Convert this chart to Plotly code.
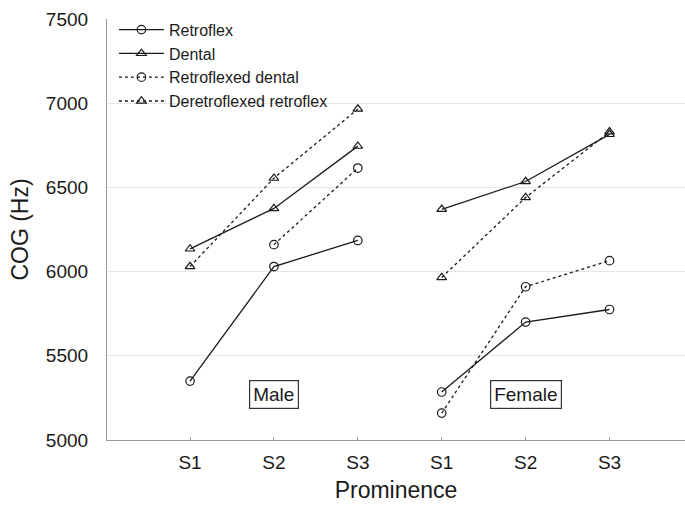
import plotly.graph_objects as go

# Prominence levels, repeated for each speaker group
levels = ["S1", "S2", "S3"]
groups = ["Male", "Female"]

# Mean COG (Hz) per group and prominence level
retroflex_male = [5350, 6030, 6185]
retroflex_female = [5285, 5700, 5775]
dental_male = [6135, 6375, 6745]
dental_female = [6370, 6535, 6815]
retroflexed_dental_male = [None, 6160, 6615]
retroflexed_dental_female = [5160, 5910, 6065]
deretroflexed_retroflex_male = [6030, 6555, 6965]
deretroflexed_retroflex_female = [5965, 6440, 6830]

series = [
    ("Retroflex", retroflex_male, retroflex_female, "solid", "circle-open"),
    ("Dental", dental_male, dental_female, "solid", "triangle-up-open"),
    ("Retroflexed dental", retroflexed_dental_male, retroflexed_dental_female, "dot", "circle-open"),
    ("Deretroflexed retroflex", deretroflexed_retroflex_male, deretroflexed_retroflex_female, "dot", "triangle-up-open"),
]

ink = "#1a1a1a"
font_family = "Liberation Sans, Arial, sans-serif"
fig = go.Figure()

x_male = [0, 1, 2]
x_female = [3, 4, 5]

for name, male, female, dash, symbol in series:
    for gi, (xs, ys) in enumerate([(x_male, male), (x_female, female)]):
        fig.add_trace(go.Scatter(
            x=xs, y=ys, name=name, legendgroup=name, showlegend=(gi == 0),
            mode="lines+markers",
            line=dict(color=ink, width=1.3, dash=dash),
            marker=dict(symbol=symbol, size=8.5, color=ink, line=dict(width=1.2, color=ink)),
            connectgaps=False,
        ))

# Group labels in boxes
for xc, label in [(1, groups[0]), (4, groups[1])]:
    fig.add_annotation(
        x=xc, y=5270, text=label, showarrow=False,
        font=dict(family=font_family, size=19, color=ink),
        bordercolor="#333", borderwidth=1.2, borderpad=3, bgcolor="white",
    )

fig.update_layout(
    width=685, height=508,
    margin=dict(l=107, r=0, t=19, b=68),
    plot_bgcolor="white", paper_bgcolor="white",
    showlegend=True,
    legend=dict(
        x=0.012, y=1.015, xanchor="left", yanchor="top",
        bgcolor="rgba(0,0,0,0)",
        font=dict(family=font_family, size=16, color=ink),
        tracegroupgap=0, itemwidth=45,
    ),
    xaxis=dict(
        range=[-0.99, 5.9],
        tickvals=[0, 1, 2, 3, 4, 5],
        ticktext=levels + levels,
        ticks="inside", ticklen=3, tickcolor="#999",
        showgrid=False, zeroline=False,
        showline=True, linecolor="#999", linewidth=1.2,
        ticklabelstandoff=5,
        tickfont=dict(family=font_family, size=19, color=ink),
        title=dict(text="Prominence", font=dict(family=font_family, size=23, color=ink), standoff=9),
    ),
    yaxis=dict(
        range=[5000, 7500],
        tickvals=[5000, 5500, 6000, 6500, 7000, 7500],
        showgrid=True, gridcolor="#e6e6e6", gridwidth=1,
        zeroline=False,
        showline=True, linecolor="#999", linewidth=1.2,
        ticks="", ticklabelstandoff=14,
        tickfont=dict(family=font_family, size=19, color=ink),
        title=dict(text="COG (Hz)", font=dict(family=font_family, size=23, color=ink), standoff=10),
    ),
)

fig.write_html("out.html")
